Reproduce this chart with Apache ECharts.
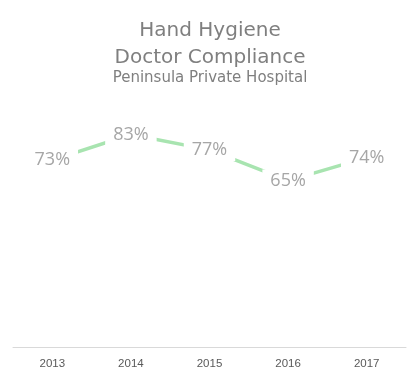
<!DOCTYPE html>
<html>
<head>
<meta charset="utf-8">
<script src="https://cdn.jsdelivr.net/npm/echarts@6/dist/echarts.min.js"></script>
<style>
  html, body { margin: 0; padding: 0; background: #fff; }
  #chart { width: 420px; height: 378px; }
</style>
</head>
<body>
<div id="chart"></div>
<script>
const years = ['2013', '2014', '2015', '2016', '2017']
const compliance = [73, 83, 77, 65, 74]
const titleLines = ['Hand Hygiene', 'Doctor Compliance']
const subtitle = 'Peninsula Private Hospital'

const chart = echarts.init(document.getElementById('chart'))
chart.setOption({
    animation: false,
    title: {
        text: titleLines.join('\n'),
        subtext: subtitle,
        left: 'center',
        top: 12,
        itemGap: 0,
        textStyle: {
            fontFamily: 'DejaVu Sans',
            fontSize: 20,
            fontWeight: 'normal',
            color: '#7f7f7f',
            lineHeight: 27
        },
        subtextStyle: {
            fontFamily: 'DejaVu Sans',
            fontSize: 15,
            color: '#7f7f7f'
        }
    },
    grid: { left: 13, right: 14, top: 91, bottom: 31 },
    xAxis: {
        type: 'category',
        data: years,
        axisLine: { lineStyle: { color: '#d9d9d9', width: 1 } },
        axisTick: { show: false },
        axisLabel: {
            color: '#595959',
            fontFamily: 'Liberation Sans',
            fontSize: 11.5,
            margin: 11
        }
    },
    yAxis: {
        type: 'value',
        min: 0,
        max: 100,
        show: false,
        splitLine: { show: false }
    },
    series: [{
        type: 'line',
        data: compliance,
        symbol: 'circle',
        symbolSize: 1,
        itemStyle: { color: 'rgba(0,0,0,0)' },
        lineStyle: { color: '#a8e4b0', width: 3.5 },
        label: {
            show: true,
            position: 'inside',
            formatter: '{c}%',
            fontFamily: 'Open Sans',
            fontSize: 18,
            color: '#a6a6a6',
            backgroundColor: '#fff',
            padding: [2, 8]
        }
    }]
})
</script>
</body>
</html>
